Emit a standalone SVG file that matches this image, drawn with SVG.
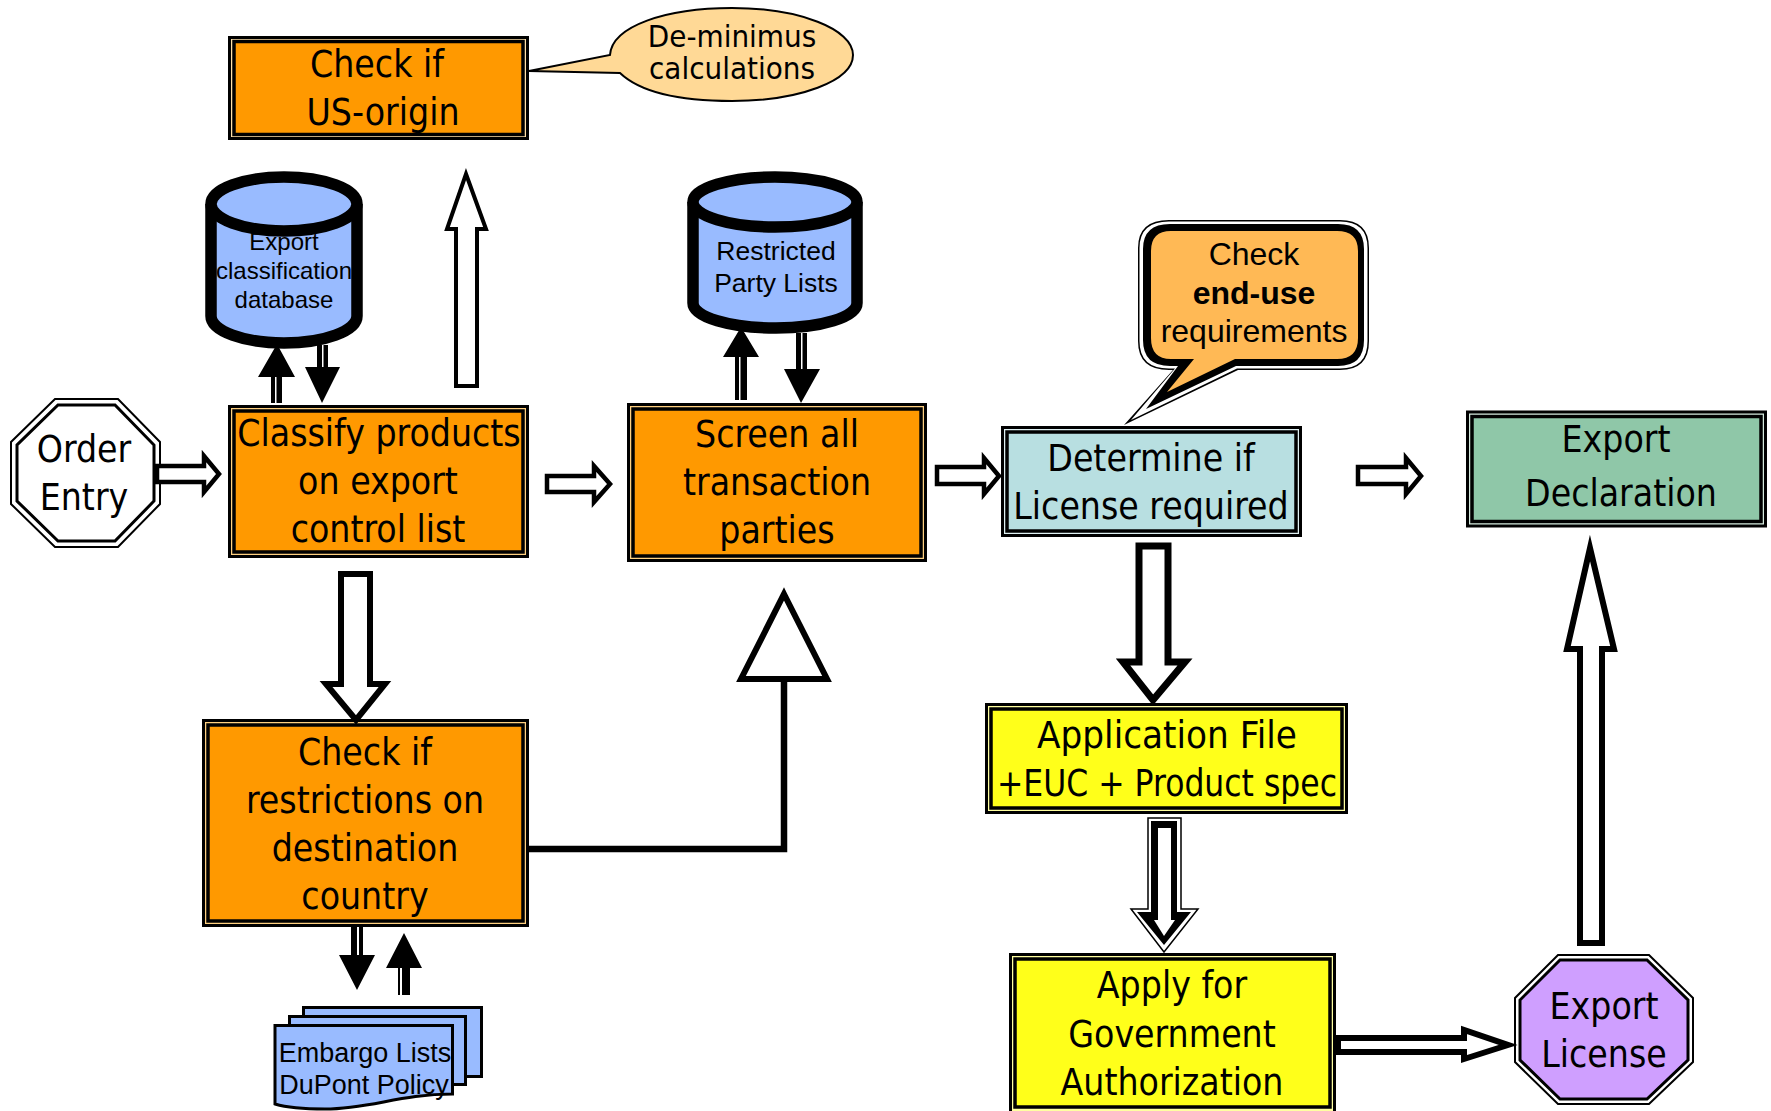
<svg xmlns="http://www.w3.org/2000/svg" width="1771" height="1111" viewBox="0 0 1771 1111">
<style>
.t{font-family:"DejaVu Sans Condensed","DejaVu Sans",sans-serif;font-size:37px;text-anchor:middle;fill:#000;transform:translateY(1px)}
.a{font-family:"Liberation Sans",Arial,sans-serif;text-anchor:middle;fill:#000}
.o{stroke:#000;stroke-width:3}
.i{stroke:#000;stroke-width:3.5}
.or{fill:#ff9900}
.ye{fill:#ffff1a}
.w{fill:#fff;stroke:#000;stroke-linejoin:miter;stroke-miterlimit:10}
.k{fill:#000}
.db{fill:#99bbff;stroke:#000;stroke-width:11.500}
.pg{fill:#99bbff;stroke:#000;stroke-width:3}
</style>
<rect width="1771" height="1111" fill="#fff"/>
<g id="callout-deminimus">
<path fill="#ffd996" stroke="#000" stroke-width="2" d="M529 71L610 55C612 26 666 8 732 8C799 8 853 29 853 55C853 81 799 101 732 101C680 101 640 92 620 73Z"/>
<text class="t" x="732" y="46" style="font-size:31px">De-minimus</text>
<text class="t" x="732" y="78" style="font-size:31px">calculations</text>
</g>
<g id="us-origin">
<rect class="o" x="229.500" y="37.500" width="298" height="101" fill="#ffe0a8"/>
<rect class="i or" x="234" y="41.500" width="289" height="93"/>
<text class="t" x="377" y="76">Check if</text>
<text class="t" x="383" y="124">US-origin</text>
</g>
<g id="export-db">
<path class="db" d="M211 204V316C211 331 244 343 284 343C324 343 357 331 357 316V204"/>
<ellipse class="db" cx="284" cy="204" rx="73" ry="27"/>
<text class="a" x="284" y="250" font-size="24">Export</text>
<text class="a" x="284" y="279" font-size="24">classification</text>
<text class="a" x="284" y="308" font-size="24">database</text>
</g>
<g id="restricted-db">
<path class="db" d="M693 202V303C693 317 730 328 776 328C821 328 857 317 857 303V202"/>
<ellipse class="db" cx="775" cy="202" rx="82" ry="25"/>
<text class="a" x="776" y="260" font-size="26.500">Restricted</text>
<text class="a" x="776" y="292" font-size="26.500">Party Lists</text>
</g>
<g id="order-entry">
<path fill="#fff" stroke="#000" stroke-width="2" d="M55 399H118L160 442V504L118 547H55L11 504V442Z"/>
<path fill="#fff" stroke="#000" stroke-width="3" d="M58 405H115L154 445V501L115 541H58L17 501V445Z"/>
<text class="t" x="84" y="461">Order</text>
<text class="t" x="84" y="509">Entry</text>
</g>
<g id="classify">
<rect class="o" x="229.500" y="406.500" width="298" height="150" fill="#ffd080"/>
<rect class="i or" x="234" y="411" width="289" height="141"/>
<text class="t" x="379" y="445">Classify products</text>
<text class="t" x="378" y="493">on export</text>
<text class="t" x="378" y="541">control list</text>
</g>
<g id="screen">
<rect class="o" x="628.500" y="404.500" width="297" height="156" fill="#ffd080"/>
<rect class="i or" x="633" y="409" width="288" height="147"/>
<text class="t" x="777" y="446">Screen all</text>
<text class="t" x="777" y="494">transaction</text>
<text class="t" x="777" y="542">parties</text>
</g>
<g id="end-use">
<path class="k" d="M1169 220H1340Q1369 220 1369 248V341Q1369 370 1340 370H1238L1124 425L1173 370H1169Q1138 370 1138 341V248Q1138 220 1169 220Z"/>
<path fill="#fff" d="M1169 221.500H1340Q1367.500 221.500 1367.500 248V341Q1367.500 368.500 1340 368.500H1237L1131 420L1175 368.500H1169Q1139.500 368.500 1139.500 341V248Q1139.500 221.500 1169 221.500Z"/>
<path class="k" d="M1170 224H1338Q1364 224 1364 249V340Q1364 366 1338 366H1236L1146 409L1178 366H1170Q1143 366 1143 340V249Q1143 224 1170 224Z"/>
<path fill="#ffb955" d="M1171 231H1337Q1358 231 1358 251V338Q1358 359 1337 359H1235L1167 392L1194 359H1171Q1151 359 1151 338V251Q1151 231 1171 231Z"/>
<text class="a" x="1254" y="265" font-size="32">Check</text>
<text class="a" x="1254" y="304" font-size="32" font-weight="700">end-use</text>
<text class="a" x="1254" y="342" font-size="32">requirements</text>
</g>
<g id="determine">
<rect class="o" x="1002.500" y="427.500" width="298" height="108" fill="#dff0f2"/>
<rect class="i" x="1007" y="432" width="289" height="99" fill="#b8dfe1"/>
<text class="t" x="1151" y="470">Determine if</text>
<text class="t" x="1151" y="518">License required</text>
</g>
<g id="export-declaration">
<rect class="o" x="1467.500" y="412" width="298" height="114" fill="#d6ebdf"/>
<rect class="i" x="1472" y="416.500" width="289" height="105" fill="#8fc7a8"/>
<text class="t" x="1616" y="451">Export</text>
<text class="t" x="1621" y="505">Declaration</text>
</g>
<g id="check-restrictions">
<rect class="o" x="203.500" y="720.500" width="324" height="205" fill="#ffd080"/>
<rect class="i or" x="208" y="725" width="315" height="196"/>
<text class="t" x="365" y="764">Check if</text>
<text class="t" x="365" y="812">restrictions on</text>
<text class="t" x="365" y="860">destination</text>
<text class="t" x="365" y="908">country</text>
</g>
<g id="embargo-docs">
<rect class="pg" x="303.500" y="1007.500" width="178" height="69"/>
<rect class="pg" x="289.500" y="1016.500" width="176" height="68"/>
<path class="pg" d="M275 1025.500H452.500V1094C400 1094 370 1109 325 1109C300 1109 285 1107 275 1104Z"/>
<text class="a" x="365" y="1062" font-size="27">Embargo Lists</text>
<text class="a" x="364" y="1094" font-size="27">DuPont Policy</text>
</g>
<g id="application-file">
<rect class="o" x="986.500" y="704.500" width="360" height="108" fill="#ffffa0"/>
<rect class="i ye" x="991" y="709" width="351" height="99"/>
<text class="t" x="1167" y="747" textLength="260" lengthAdjust="spacingAndGlyphs">Application File</text>
<text class="t" x="1167" y="795" textLength="340" lengthAdjust="spacingAndGlyphs">+EUC + Product spec</text>
</g>
<g id="apply">
<rect class="o" x="1010.500" y="954.500" width="324" height="160" fill="#ffffa0"/>
<rect class="i ye" x="1015" y="959" width="315" height="148"/>
<text class="t" x="1172" y="997">Apply for</text>
<text class="t" x="1172" y="1046">Government</text>
<text class="t" x="1172" y="1094">Authorization</text>
</g>
<g id="export-license">
<path fill="#fff" stroke="#000" stroke-width="2" d="M1558 955H1649L1693 998V1062L1649 1104H1558L1515 1062V998Z"/>
<path fill="#cf9fff" stroke="#000" stroke-width="3" d="M1560 960H1647L1688 1000V1060L1647 1099H1560L1520 1060V1000Z"/>
<text class="t" x="1604" y="1018">Export</text>
<text class="t" x="1604" y="1066">License</text>
</g>
<g id="connectors">
<path class="w" stroke-width="4" d="M466 174L486 229H477V386H456V229H447Z"/>
<path class="w" stroke-width="4.500" d="M157 466H204V456L219 474L204 492V482H157Z"/>
<path class="w" stroke-width="4.500" d="M547 476H594V466L610 484L594 502V492H547Z"/>
<path class="w" stroke-width="4.500" d="M937 467H984V458L999 476L984 494V484H937Z"/>
<path class="w" stroke-width="4.500" d="M1358 467H1406V458L1421 476L1406 494V484H1358Z"/>
<path class="w" stroke-width="7" d="M1139 546H1168V662H1185L1153 700L1123 662H1139Z"/>
<path class="w" stroke-width="6" d="M341 574H370V684H385L356 720L326 684H341Z"/>
<path class="w" stroke-width="6" d="M1590 548L1614 649H1602V943H1580V649H1567Z"/>
<path class="w" stroke-width="6" d="M1338 1038H1464V1030L1508 1045L1464 1059V1052H1338Z"/>
<path d="M526 849H784V681" fill="none" stroke="#000" stroke-width="6.500"/>
<path class="w" stroke-width="6" d="M784 594L827 679H741Z"/>
<path class="k" d="M271 403V377H258L277 344L295 377H282V403Z"/><rect x="275" y="377" width="1.500" height="26" fill="#fff"/>
<path class="k" d="M317 345H328V367H340L322 403L305 367H317Z"/><rect x="322" y="345" width="1.500" height="22" fill="#fff"/>
<path class="k" d="M735 400V357H723L741 327L759 357H747V400Z"/><rect x="739" y="357" width="1.500" height="43" fill="#fff"/>
<path class="k" d="M796 333H807V369H820L801 403L784 369H796Z"/><rect x="801" y="333" width="1.500" height="36" fill="#fff"/>
<path class="k" d="M351 927H363V955H375L357 990L339 955H351Z"/><rect x="357" y="927" width="2" height="28" fill="#fff"/>
<path class="k" d="M398 995V968H386L404 933L422 968H410V995Z"/><rect x="400" y="968" width="2" height="27" fill="#fff"/>
<path fill="#fff" stroke="#000" stroke-width="1.500" d="M1148 818H1181V909H1198L1164 952L1131 909H1148Z"/>
<path class="k" d="M1151 821H1177V912H1191L1164 945L1137 912H1151Z"/>
<path fill="#fff" d="M1158 828H1171V920H1175L1164 936L1154 920H1158Z"/>
</g>
</svg>
